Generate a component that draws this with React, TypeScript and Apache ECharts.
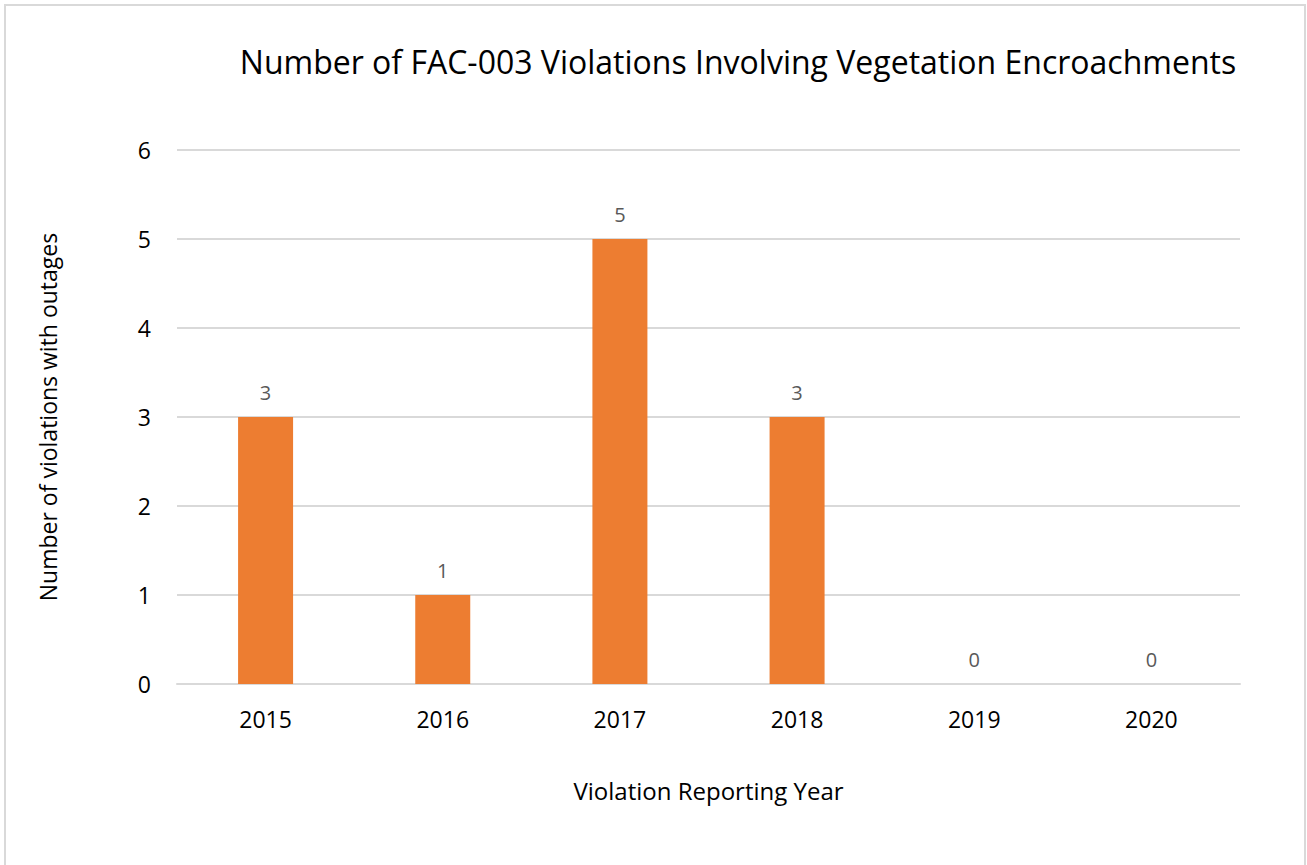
import React, { useEffect, useRef } from "react";
import * as echarts from "echarts";

const categories = ["2015", "2016", "2017", "2018", "2019", "2020"];
const values = [3, 1, 5, 3, 0, 0];
const titleText = "Number of FAC-003 Violations Involving Vegetation Encroachments";
const yName = "Number of violations with outages";
const xName = "Violation Reporting Year";

const FONT = "'Open Sans', 'Noto Sans', sans-serif";

export default function App() {
  const ref = useRef<HTMLDivElement>(null);
  useEffect(() => {
    if (!ref.current) return;
    const chart = echarts.init(ref.current, undefined, { renderer: "svg" });
    chart.setOption({
      animation: false,
      backgroundColor: "#ffffff",
      title: {
        text: titleText,
        left: 733,
        top: 40,
        textAlign: "center",
        textStyle: { fontFamily: FONT, fontSize: 32, fontWeight: "normal", color: "#000000" },
      },
      graphic: [
        {
          type: "rect",
          shape: { x: 5, y: 5, width: 1300, height: 880 },
          style: { fill: "none", stroke: "#d9d9d9", lineWidth: 2 },
          silent: true,
        },
      ],
      grid: { left: 177, right: 67, top: 150, bottom: 181, containLabel: false },
      xAxis: {
        type: "category",
        data: categories,
        name: xName,
        nameLocation: "middle",
        nameGap: 94,
        nameTextStyle: { fontFamily: FONT, fontSize: 24, color: "#000000" },
        axisLine: { show: true, lineStyle: { color: "#d9d9d9", width: 2 } },
        axisTick: { show: false },
        axisLabel: { fontFamily: FONT, fontSize: 23, color: "#000000", margin: 23 },
      },
      yAxis: {
        type: "value",
        min: 0,
        max: 6,
        interval: 1,
        name: yName,
        nameLocation: "middle",
        nameGap: 118,
        nameRotate: 90,
        nameTextStyle: { fontFamily: FONT, fontSize: 23, color: "#000000" },
        axisLine: { show: false },
        axisTick: { show: false },
        axisLabel: { fontFamily: FONT, fontSize: 23, color: "#000000", margin: 26 },
        splitLine: { lineStyle: { color: "#d9d9d9", width: 2 } },
      },
      series: [
        {
          type: "bar",
          data: values,
          barWidth: 55,
          itemStyle: { color: "#ED7D31" },
          label: {
            show: true,
            position: "top",
            distance: 15,
            fontFamily: FONT,
            fontSize: 20,
            color: "#595959",
          },
        },
      ],
    });
    return () => chart.dispose();
  }, []);
  return (
    <div
      ref={ref}
      style={{ position: "fixed", left: 0, top: 0, width: 1307, height: 865 }}
    />
  );
}
